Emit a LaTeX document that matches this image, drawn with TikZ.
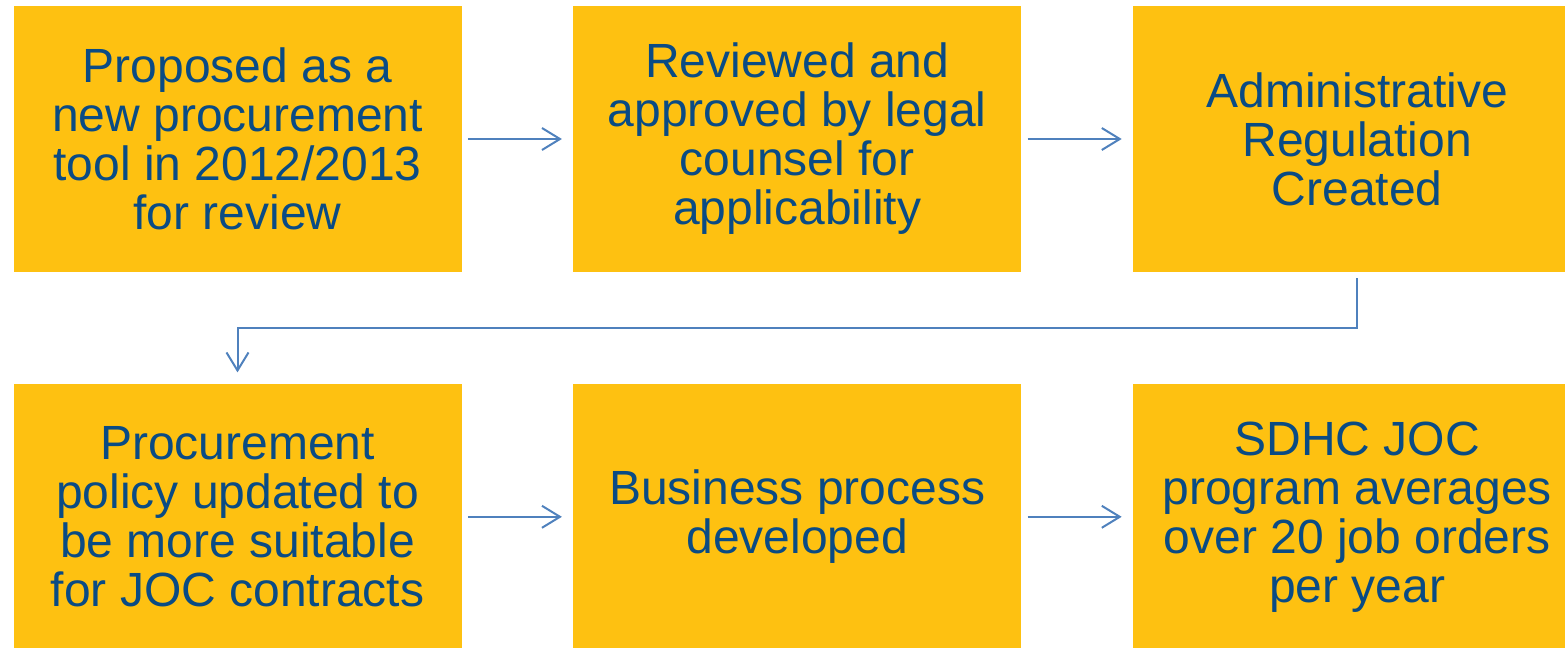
\documentclass[tikz,border=0pt]{standalone}
\usepackage{fontspec}
\setmainfont{Liberation Sans}
\usepackage{xcolor}
\usepackage{tikz}
\usetikzlibrary{arrows.meta,positioning}
\definecolor{boxfill}{HTML}{FEC111}
\definecolor{boxtext}{HTML}{0A4B84}
\definecolor{flowline}{HTML}{4F81BD}

\begin{document}
\begin{tikzpicture}[x=0.5pt, y=-0.5pt,
        stage/.style={fill=boxfill, text=boxtext, align=center, inner sep=0pt,
                minimum width=224pt, minimum height=133pt,
                font=\fontsize{24pt}{24.5pt}\selectfont},
        flow/.style={draw=flowline, line width=1pt,
                -{Straight Barb[length=9pt,width=11pt,line width=1pt]},
                shorten <=3pt, shorten >=5.5pt}]
        \useasboundingbox (0,0) rectangle (1565,648);

        \node[stage] (propose) at (237.5,139) {Proposed as a\\new procurement\\tool in 2012/2013\\for review};
        \node[stage, right=55.5pt of propose] (review) {Reviewed and\\approved by legal\\counsel for\\applicability};
        \node[stage, right=55.5pt of review] (admreg) {Administrative\\Regulation\\Created};
        \node[stage, below=55.5pt of propose] (policy) {Procurement\\policy updated to\\be more suitable\\for JOC contracts};
        \node[stage, right=55.5pt of policy] (bizproc) {Business process\\developed};
        \node[stage, right=55.5pt of bizproc] (sdhc) {SDHC JOC\\program averages\\over 20 job orders\\per year};

        \draw[flow] (propose) -- (review);
        \draw[flow] (review) -- (admreg);
        \draw[flow] (admreg.south) -- ++(0,55.5) -| (policy.north);
        \draw[flow] (policy) -- (bizproc);
        \draw[flow] (bizproc) -- (sdhc);
\end{tikzpicture}
\end{document}
